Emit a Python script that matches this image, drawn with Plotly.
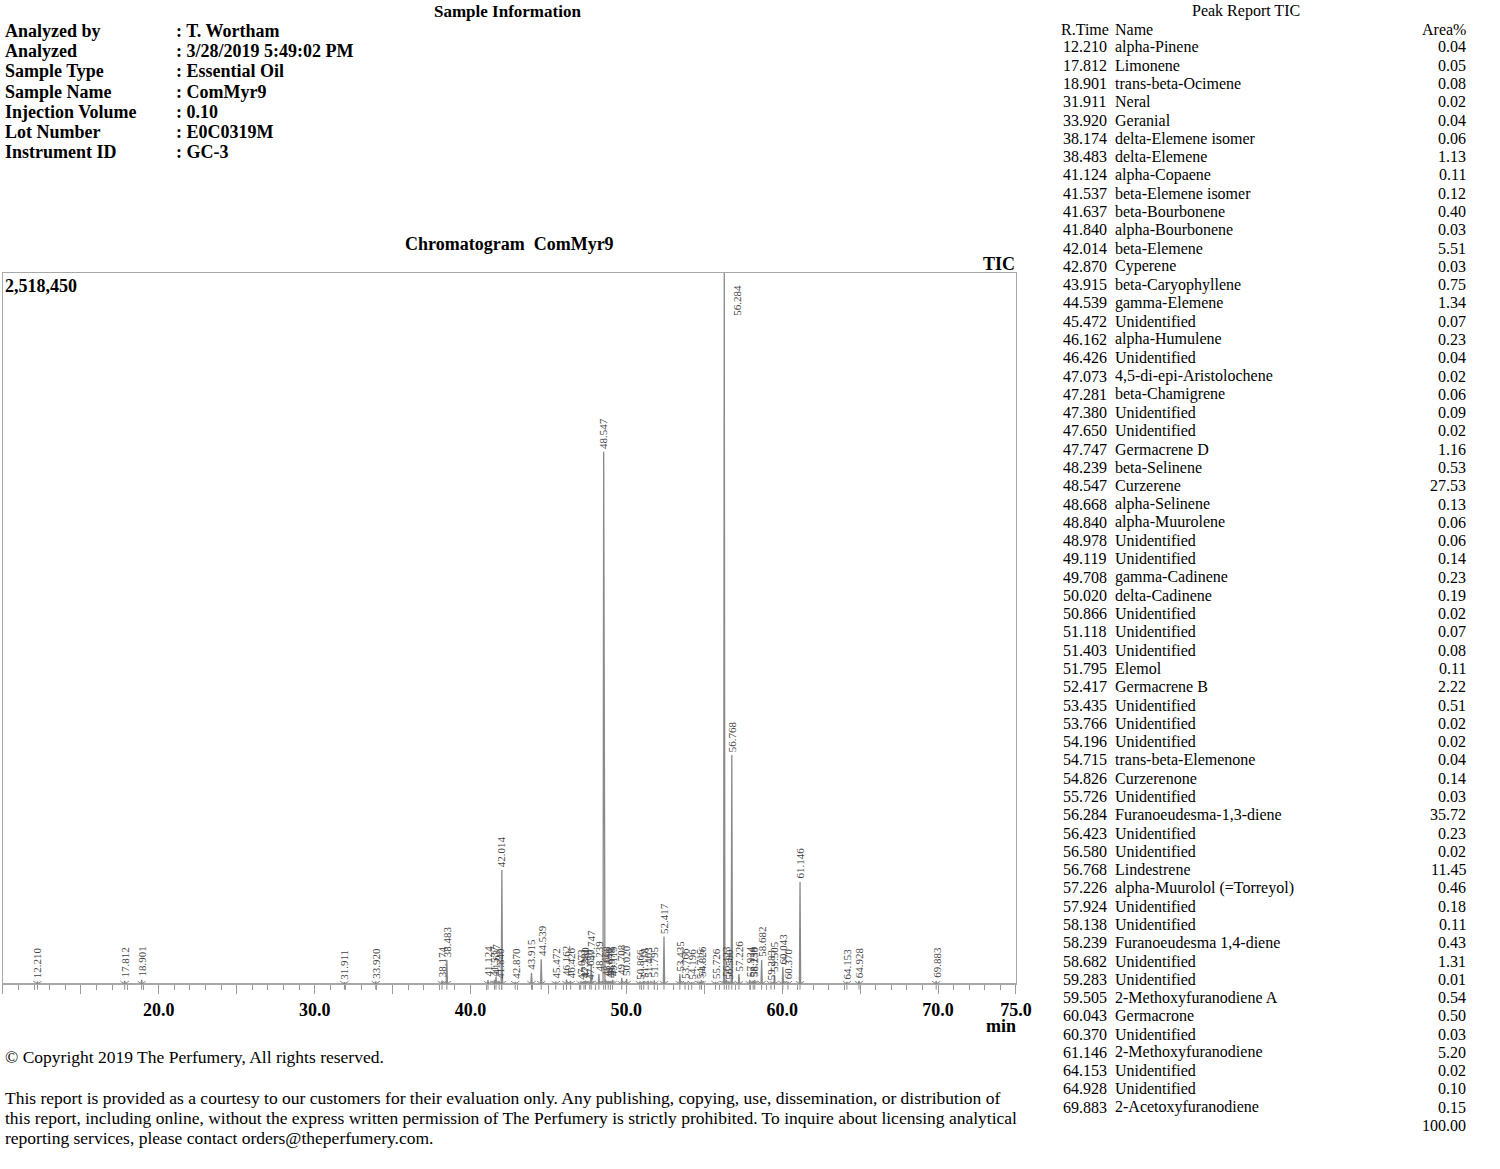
import plotly.graph_objects as go

# ---------------- data ----------------
rt = [12.210, 17.812, 18.901, 31.911, 33.920, 38.174, 38.483, 41.124, 41.537, 41.637,
      41.840, 42.014, 42.870, 43.915, 44.539, 45.472, 46.162, 46.426, 47.073, 47.281,
      47.380, 47.650, 47.747, 48.239, 48.547, 48.668, 48.840, 48.978, 49.119, 49.708,
      50.020, 50.866, 51.118, 51.403, 51.795, 52.417, 53.435, 53.766, 54.196, 54.715,
      54.826, 55.726, 56.284, 56.423, 56.580, 56.768, 57.226, 57.924, 58.138, 58.239,
      58.682, 59.283, 59.505, 60.043, 60.370, 61.146, 64.153, 64.928, 69.883]

peak_name = ["alpha-Pinene", "Limonene", "trans-beta-Ocimene", "Neral", "Geranial",
             "delta-Elemene isomer", "delta-Elemene", "alpha-Copaene", "beta-Elemene isomer",
             "beta-Bourbonene", "alpha-Bourbonene", "beta-Elemene", "Cyperene",
             "beta-Caryophyllene", "gamma-Elemene", "Unidentified", "alpha-Humulene",
             "Unidentified", "4,5-di-epi-Aristolochene", "beta-Chamigrene", "Unidentified",
             "Unidentified", "Germacrene D", "beta-Selinene", "Curzerene", "alpha-Selinene",
             "alpha-Muurolene", "Unidentified", "Unidentified", "gamma-Cadinene",
             "delta-Cadinene", "Unidentified", "Unidentified", "Unidentified", "Elemol",
             "Germacrene B", "Unidentified", "Unidentified", "Unidentified",
             "trans-beta-Elemenone", "Curzerenone", "Unidentified", "Furanoeudesma-1,3-diene",
             "Unidentified", "Unidentified", "Lindestrene", "alpha-Muurolol (=Torreyol)",
             "Unidentified", "Unidentified", "Furanoeudesma 1,4-diene", "Unidentified",
             "Unidentified", "2-Methoxyfuranodiene A", "Germacrone", "Unidentified",
             "2-Methoxyfuranodiene", "Unidentified", "Unidentified", "2-Acetoxyfuranodiene"]

area_pct = ["0.04", "0.05", "0.08", "0.02", "0.04", "0.06", "1.13", "0.11", "0.12", "0.40",
            "0.03", "5.51", "0.03", "0.75", "1.34", "0.07", "0.23", "0.04", "0.02", "0.06",
            "0.09", "0.02", "1.16", "0.53", "27.53", "0.13", "0.06", "0.06", "0.14", "0.23",
            "0.19", "0.02", "0.07", "0.08", "0.11", "2.22", "0.51", "0.02", "0.02", "0.04",
            "0.14", "0.03", "35.72", "0.23", "0.02", "11.45", "0.46", "0.18", "0.11", "0.43",
            "1.31", "0.01", "0.54", "0.50", "0.03", "5.20", "0.02", "0.10", "0.15"]
area_total = "100.00"

# estimated apex heights (counts)
peak_height = [9000, 11000, 15000, 6000, 9000, 12000, 85000, 14000, 15000, 25000,
               7000, 404000, 7000, 40000, 88000, 8000, 16000, 10000, 5000, 10000,
               12000, 5000, 71000, 35000, 1885000, 16000, 10000, 10000, 15000, 22000,
               18000, 6000, 10000, 11000, 13000, 168000, 35000, 6000, 6000, 8000,
               14000, 7000, 2518450, 15000, 6000, 811000, 35000, 15000, 12000, 15000,
               85000, 4000, 32000, 60000, 8000, 361000, 7000, 11000, 10000]

y_max = 2518450
x_min, x_max = 10.0, 75.0
tick_vals = [10, 15, 20, 25, 30, 35, 40, 45, 50, 55, 60, 65, 70, 75]
tick_text = ["", "", "20.0", "", "30.0", "", "40.0", "", "50.0", "", "60.0", "", "70.0", "75.0"]

info_labels = ["Analyzed by", "Analyzed", "Sample Type", "Sample Name",
               "Injection Volume", "Lot Number", "Instrument ID"]
info_values = [": T. Wortham", ": 3/28/2019 5:49:02 PM", ": Essential Oil", ": ComMyr9",
               ": 0.10", ": E0C0319M", ": GC-3"]

footer_lines = [
    "This report is provided as a courtesy to our customers for their evaluation only. Any publishing, copying, use, dissemination, or distribution of",
    "this report, including online, without the express written permission of The Perfumery is strictly prohibited. To inquire about licensing analytical",
    "reporting services, please contact orders@theperfumery.com.",
]

# ---------------- layout helpers ----------------
# figure kept slightly smaller than the window so the page never overflows
W, H = 1484, 1153
SERIF = "Liberation Serif"
GRAY = "#8a8a8a"


def px(x):
    return x / W


def py(y):
    return 1 - y / H


# chromatogram trace built from the peak table
half_w = 0.04
cx, cy = [x_min], [0]
for t, h in zip(rt, peak_height):
    cx += [t - half_w, t, t + half_w]
    cy += [0, h, 0]
cx.append(x_max)
cy.append(0)

fig = go.Figure()
fig.add_trace(go.Scatter(x=cx, y=cy, mode="lines",
                         line=dict(color=GRAY, width=1.3),
                         hoverinfo="skip", showlegend=False))
fig.add_trace(go.Scatter(x=rt, y=[0] * len(rt), mode="markers",
                         marker=dict(symbol="y-down-open", size=7, color=GRAY,
                                     line=dict(color=GRAY, width=1)),
                         hoverinfo="skip", showlegend=False, cliponaxis=False))

annotations = []

# peak labels
for t, h in zip(rt, peak_height):
    if h >= 0.95 * y_max:
        # label of the peak reaching the top of the frame sits beside its line
        annotations.append(dict(x=t, y=y_max, xref="x", yref="y", text=f"{t:.3f}",
                                textangle=-90, showarrow=False, xanchor="left",
                                yanchor="top", xshift=5, yshift=-10,
                                font=dict(family=SERIF, size=11, color="#444")))
    else:
        annotations.append(dict(x=t, y=h, xref="x", yref="y", text=f"{t:.3f}",
                                textangle=-90, showarrow=False, xanchor="center",
                                yanchor="bottom", yshift=1,
                                font=dict(family=SERIF, size=11, color="#444")))


def txt(x, y, s, size=18, anchor="left", color="black"):
    annotations.append(dict(x=px(x), y=py(y), xref="paper", yref="paper", text=s,
                            showarrow=False, xanchor=anchor, yanchor="middle",
                            font=dict(family=SERIF, size=size, color=color)))


# header
txt(513, 11, "<b>Sample Information</b>", 17, "center")
for i, (lab, val) in enumerate(zip(info_labels, info_values)):
    y = 31 + i * 20.2
    txt(3, y, f"<b>{lab}</b>", 18)
    txt(176, y, f"<b>{val}</b>", 18)

txt(515, 244, "<b>Chromatogram  ComMyr9</b>", 18, "center")
txt(1028, 264, "<b>TIC</b>", 18, "right")
txt(3, 286, "<b>2,518,450</b>", 18)
txt(1012, 1026, "<b>min</b>", 18, "center")

# footer
txt(3, 1057, "© Copyright 2019 The Perfumery, All rights reserved.", 17.5)
for i, line in enumerate(footer_lines):
    txt(3, 1098 + i * 20, line, 17.5)

# peak report table
txt(1260, 11, "Peak Report TIC", 16, "center")
txt(1071, 29, "R.Time", 16)
txt(1125, 29, "Name", 16)
txt(1484, 29, "Area%", 16, "right")
row_h = 18.28
for i, (t, n, a) in enumerate(zip(rt, peak_name, area_pct)):
    y = 47 + i * row_h
    txt(1073, y, f"{t:.3f}", 16)
    txt(1125, y, n, 16)
    txt(1484, y, a, 16, "right")
txt(1484, 47 + len(rt) * row_h, area_total, 16, "right")

fig.update_layout(
    width=W, height=H, autosize=False,
    margin=dict(l=0, r=0, t=0, b=0, pad=0),
    paper_bgcolor="white", plot_bgcolor="white",
    annotations=annotations,
    xaxis=dict(domain=[px(3), px(1027)], range=[x_min, x_max],
               showgrid=False, zeroline=False,
               showline=True, mirror=True, linecolor="#a8a8a8", linewidth=1,
               tickmode="array", tickvals=tick_vals,
               ticktext=[f"<b>{s}</b>" if s else "" for s in tick_text],
               ticks="outside", ticklen=9, tickcolor="#999", tickwidth=1,
               tickfont=dict(family=SERIF, size=18, color="black"),
               minor=dict(dtick=1, ticks="outside", ticklen=5, tickcolor="#999",
                          showgrid=False)),
    yaxis=dict(domain=[py(984), py(273)], range=[0, y_max],
               showgrid=False, zeroline=False, showticklabels=False, ticks="",
               showline=True, mirror=True, linecolor="#a8a8a8", linewidth=1),
    showlegend=False,
)

fig.write_html(
    "out.html",
    config={"displayModeBar": False, "responsive": False},
    post_script="document.body.style.margin='0';",
)
